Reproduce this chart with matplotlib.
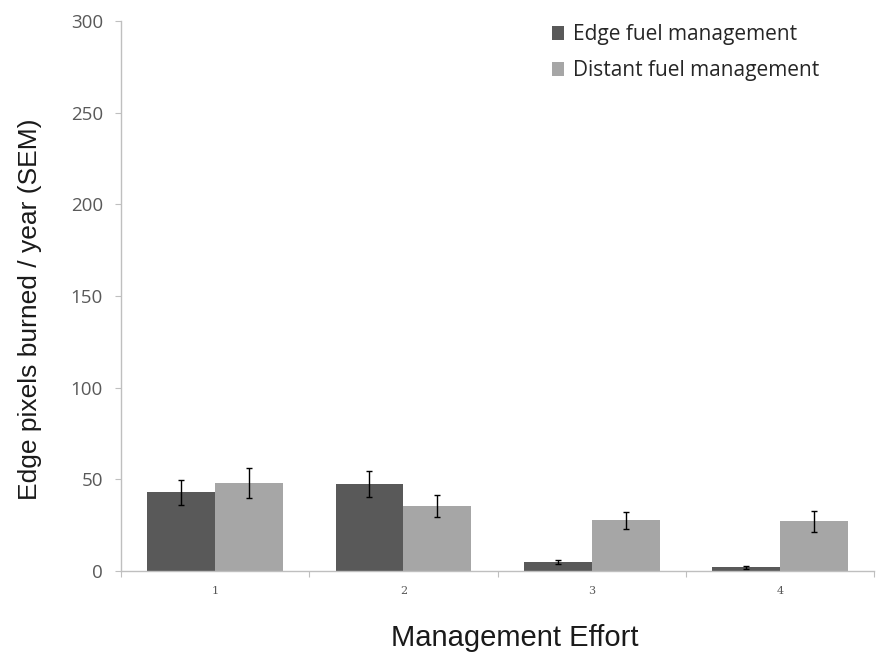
import numpy as np
import matplotlib
matplotlib.use("Agg")
import matplotlib.pyplot as plt

categories = ["1", "2", "3", "4"]
edge_mean = [43, 47.5, 5, 2.2]
edge_sem = [6.8, 7, 1, 0.8]
distant_mean = [48, 35.6, 27.8, 27.2]
distant_sem = [8, 6, 4.7, 5.8]

dark = "#595959"
light = "#a6a6a6"
axis_grey = "#bfbfbf"

fig = plt.figure(figsize=(8.76, 6.55), dpi=100)
ax = fig.add_axes([0.138, 0.128, 0.860, 0.840])

x = np.arange(1, len(categories) + 1)
w = 0.36
err_kw = dict(ecolor="black", elinewidth=1, capsize=2.5, capthick=1)
ax.bar(x - w / 2, edge_mean, w, yerr=edge_sem, color=dark,
       label="Edge fuel management", error_kw=err_kw, zorder=2)
ax.bar(x + w / 2, distant_mean, w, yerr=distant_sem, color=light,
       label="Distant fuel management", error_kw=err_kw, zorder=2)

ax.set_xlim(0.5, 4.5)
ax.set_ylim(0, 300)
ax.set_yticks(np.arange(0, 301, 50))
for lab in ax.get_yticklabels():
    lab.set_family("Open Sans")
ax.tick_params(axis="y", direction="out", length=4, width=0.8, color=axis_grey,
               labelsize=13.5, labelcolor=dark, pad=9)

# category borders carry the tick marks, labels sit in between
ax.set_xticks(np.arange(0.5, 4.6, 1))
ax.set_xticklabels([])
ax.set_xticks(x, minor=True)
ax.set_xticklabels(categories, minor=True, family="DejaVu Serif")
ax.tick_params(axis="x", which="major", direction="out", length=4, width=0.8,
               color=axis_grey)
ax.tick_params(axis="x", which="minor", length=0, labelsize=8, labelcolor=dark,
               pad=11)

for s in ["top", "right"]:
    ax.spines[s].set_visible(False)
for s in ["left", "bottom"]:
    ax.spines[s].set_color(axis_grey)
    ax.spines[s].set_linewidth(1)

ax.set_xlabel("Management Effort", fontsize=21, family="Liberation Sans",
              color="#1a1a1a")
ax.xaxis.set_label_coords(0.523, -0.096)
ax.set_ylabel("Edge pixels burned / year (SEM)", fontsize=19,
              family="Liberation Sans", color="#1a1a1a")
ax.yaxis.set_label_coords(-0.105, 0.476)

ax.legend(loc="upper left", bbox_to_anchor=(0.548, 1.028), frameon=False,
          prop={"family": "Open Sans", "size": 15}, handlelength=0.55,
          handleheight=0.65, handletextpad=0.45, labelspacing=0.72,
          labelcolor="#262626")

fig.savefig("out.png", dpi=100)
